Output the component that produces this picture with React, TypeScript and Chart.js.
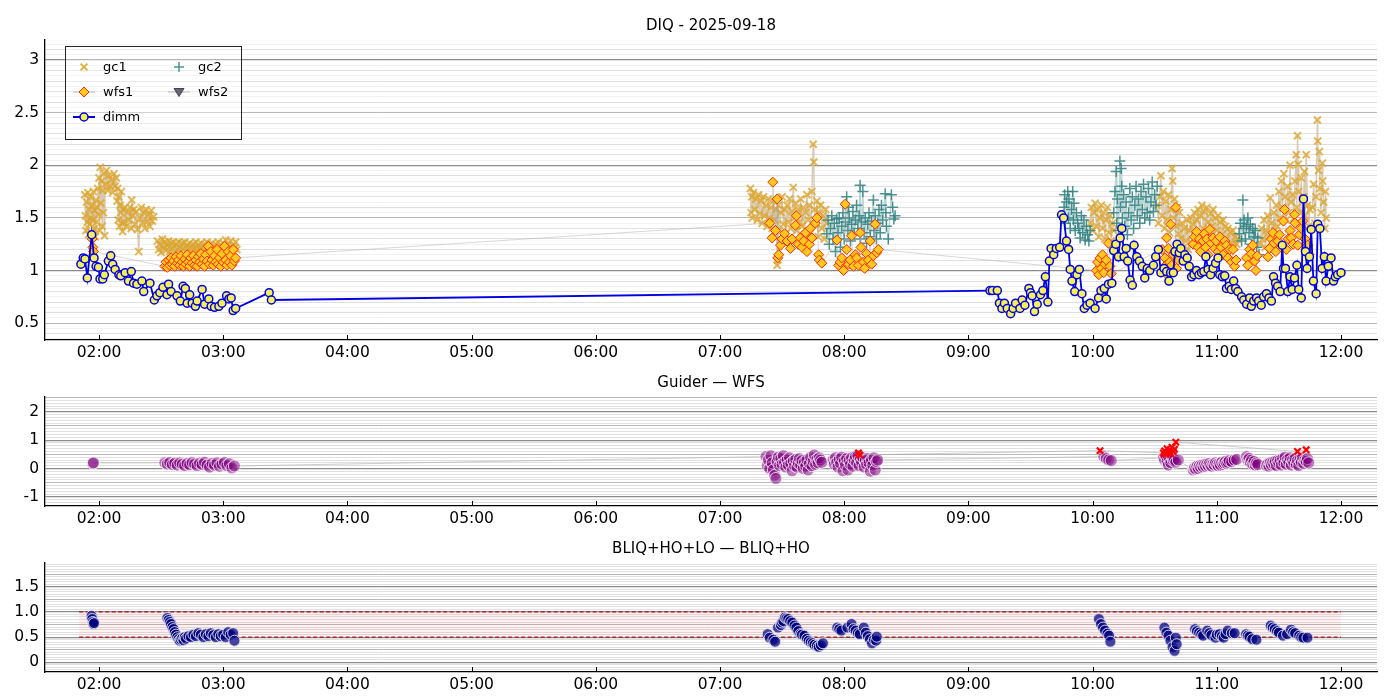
import React, { useEffect, useRef } from "react";
import Chart from "chart.js/auto";

type P = [number, number];

// x values are decimal hours (UT) of the night
const hourTicks = [2, 3, 4, 5, 6, 7, 8, 9, 10, 11, 12];
const hourMin = 1.565;
const hourMax = 12.29;

const diqTicks = [0.5, 1, 1.5, 2, 2.5, 3];
const diqTickLabels = ["0.5", "1", "1.5", "2", "2.5", "3"];
const guiderTicks = [-1, 0, 1, 2];
const guiderTickLabels = ["-1", "0", "1", "2"];
const bliqTicks = [0, 0.5, 1, 1.5];
const bliqTickLabels = ["0", "0.5", "1.0", "1.5"];

const bliqBand = [0.5, 1.0];
const bliqBandSpan = [1.84, 12.0];

// ---- DIQ panel ----
const gc1A: P[] = [
  [1.885, 1.72], [1.89, 1.52], [1.895, 1.38], [1.9, 1.65], [1.905, 1.46], [1.91, 1.74], [1.915, 1.34], [1.92, 1.58],
  [1.925, 1.44], [1.93, 1.7], [1.935, 1.5], [1.94, 1.36], [1.945, 1.62], [1.95, 1.48], [1.955, 1.75], [1.96, 1.4],
  [1.965, 1.57], [1.97, 1.32], [1.975, 1.67], [1.98, 1.46], [1.985, 1.6], [1.99, 1.78], [1.995, 1.53], [2.0, 1.88],
  [2.005, 1.38], [2.01, 1.98], [2.015, 1.64], [2.02, 1.85], [2.025, 1.42], [2.03, 1.76], [2.035, 1.55], [2.04, 1.92],
  [2.045, 1.33], [2.05, 1.82], [2.06, 1.95], [2.07, 1.76], [2.08, 1.9], [2.09, 1.8], [2.1, 1.86], [2.11, 1.74],
  [2.12, 1.92], [2.13, 1.8], [2.14, 1.88], [2.145, 1.66], [2.15, 1.78], [2.155, 1.48], [2.16, 1.7], [2.165, 1.42],
  [2.17, 1.62], [2.175, 1.55], [2.18, 1.75], [2.185, 1.45], [2.19, 1.37], [2.195, 1.58], [2.2, 1.46], [2.21, 1.6],
  [2.22, 1.42], [2.23, 1.55], [2.24, 1.48], [2.25, 1.6], [2.26, 1.4], [2.263, 1.67], [2.27, 1.52], [2.28, 1.58],
  [2.29, 1.44], [2.3, 1.56], [2.31, 1.39], [2.32, 1.18], [2.33, 1.5], [2.34, 1.6], [2.35, 1.45], [2.36, 1.55],
  [2.37, 1.4], [2.38, 1.58], [2.39, 1.47], [2.4, 1.53], [2.41, 1.42], [2.42, 1.57], [2.43, 1.47], [2.44, 1.51],
];
const gc1B: P[] = [
  [2.47, 1.28], [2.48, 1.2], [2.49, 1.25], [2.5, 1.17], [2.51, 1.3], [2.52, 1.22], [2.53, 1.27], [2.54, 1.19],
  [2.55, 1.24], [2.56, 1.28], [2.57, 1.18], [2.58, 1.26], [2.59, 1.21], [2.6, 1.27], [2.61, 1.16], [2.62, 1.25],
  [2.63, 1.2], [2.64, 1.27], [2.65, 1.22], [2.66, 1.18], [2.67, 1.26], [2.68, 1.21], [2.69, 1.27], [2.7, 1.17],
  [2.71, 1.24], [2.72, 1.2], [2.73, 1.26], [2.74, 1.22], [2.75, 1.18], [2.76, 1.25], [2.77, 1.21], [2.78, 1.27],
  [2.79, 1.19], [2.8, 1.24], [2.81, 1.2], [2.82, 1.26], [2.83, 1.22], [2.84, 1.17], [2.85, 1.25], [2.86, 1.21],
  [2.87, 1.27], [2.88, 1.19], [2.89, 1.24], [2.9, 1.2], [2.91, 1.26], [2.92, 1.22], [2.93, 1.18], [2.94, 1.25],
  [2.95, 1.21], [2.96, 1.27], [2.97, 1.19], [2.98, 1.24], [2.99, 1.2], [3.0, 1.26], [3.01, 1.22], [3.02, 1.29],
  [3.03, 1.18], [3.04, 1.25], [3.05, 1.21], [3.06, 1.28], [3.07, 1.19], [3.08, 1.24], [3.09, 1.21], [3.1, 1.27],
  [3.11, 1.2],
];
const gc1C: P[] = [
  [7.245, 1.78], [7.25, 1.55], [7.255, 1.7], [7.26, 1.5], [7.27, 1.74], [7.28, 1.58], [7.29, 1.68], [7.3, 1.48],
  [7.31, 1.72], [7.32, 1.54], [7.33, 1.66], [7.34, 1.45], [7.35, 1.7], [7.36, 1.52], [7.37, 1.62], [7.38, 1.42],
  [7.39, 1.68], [7.4, 1.5], [7.41, 1.6], [7.42, 1.4], [7.43, 1.66], [7.44, 1.48], [7.45, 1.58], [7.46, 1.05],
  [7.465, 1.1], [7.47, 1.62], [7.48, 1.38], [7.49, 1.55], [7.5, 1.7], [7.51, 1.44], [7.52, 1.58], [7.53, 1.35],
  [7.54, 1.62], [7.55, 1.46], [7.56, 1.68], [7.57, 1.4], [7.58, 1.56], [7.59, 1.79], [7.6, 1.5], [7.61, 1.64],
  [7.62, 1.38], [7.63, 1.58], [7.64, 1.46], [7.65, 1.68], [7.66, 1.42], [7.67, 1.6], [7.68, 1.34], [7.69, 1.55],
  [7.7, 1.72], [7.71, 1.48], [7.72, 1.62], [7.73, 1.36], [7.74, 1.75], [7.75, 2.2], [7.755, 2.03], [7.76, 1.58],
  [7.77, 1.44], [7.78, 1.66], [7.79, 1.32], [7.8, 1.55], [7.81, 1.62], [7.82, 1.4], [7.83, 1.52], [7.84, 1.3],
  [7.85, 1.58], [7.86, 1.45],
];
const gc1D: P[] = [
  [9.98, 1.45], [9.99, 1.6], [10.0, 1.38], [10.01, 1.55], [10.02, 1.64], [10.03, 1.42], [10.04, 1.58], [10.05, 1.32],
  [10.06, 1.5], [10.07, 1.62], [10.08, 1.4], [10.09, 1.55], [10.1, 1.3], [10.11, 1.48], [10.12, 1.6], [10.13, 1.36],
  [10.14, 1.52], [10.15, 1.28], [10.16, 1.45], [10.17, 1.38],
];
const gc1E: P[] = [
  [10.52, 1.62], [10.53, 1.45], [10.54, 1.7], [10.55, 1.9], [10.56, 1.52], [10.57, 1.75], [10.58, 1.4], [10.59, 1.66],
  [10.6, 1.48], [10.61, 1.72], [10.62, 1.36], [10.63, 1.58], [10.64, 1.97], [10.645, 1.85], [10.65, 1.5], [10.66, 1.68],
  [10.67, 1.42], [10.68, 1.6], [10.69, 1.35], [10.7, 1.55], [10.71, 1.3], [10.72, 1.45], [10.73, 1.22], [10.74, 1.4],
  [10.75, 1.28], [10.76, 1.48], [10.77, 1.2], [10.78, 1.38], [10.79, 1.5], [10.8, 1.26], [10.81, 1.44], [10.82, 1.55],
  [10.83, 1.32], [10.84, 1.48], [10.85, 1.58], [10.86, 1.3], [10.87, 1.52], [10.88, 1.62], [10.89, 1.4], [10.9, 1.56],
  [10.91, 1.35], [10.92, 1.6], [10.93, 1.46], [10.94, 1.3], [10.95, 1.54], [10.96, 1.42], [10.97, 1.58], [10.98, 1.28],
  [10.99, 1.5], [11.0, 1.38], [11.01, 1.52], [11.02, 1.24], [11.03, 1.46], [11.04, 1.34], [11.05, 1.48], [11.06, 1.22],
  [11.07, 1.42], [11.08, 1.3], [11.09, 1.4], [11.1, 1.2], [11.11, 1.36], [11.12, 1.26], [11.13, 1.38], [11.14, 1.22],
  [11.15, 1.32], [11.16, 1.25], [11.17, 1.3],
];
const gc1F: P[] = [
  [11.35, 1.25], [11.36, 1.4], [11.37, 1.3], [11.38, 1.48], [11.39, 1.22], [11.4, 1.38], [11.41, 1.52], [11.42, 1.32],
  [11.43, 1.69], [11.44, 1.45], [11.45, 1.28], [11.46, 1.55], [11.47, 1.38], [11.48, 1.62], [11.49, 1.42], [11.5, 1.75],
  [11.51, 1.5], [11.52, 1.85], [11.53, 1.6], [11.54, 1.92], [11.55, 1.7], [11.56, 1.48], [11.57, 1.8], [11.58, 1.55],
  [11.59, 2.0], [11.6, 1.65], [11.61, 1.72], [11.62, 1.5], [11.63, 1.85], [11.64, 2.1], [11.645, 1.6], [11.65, 2.28],
  [11.655, 2.01], [11.66, 1.75], [11.67, 1.55], [11.68, 1.88], [11.69, 1.45], [11.7, 1.7], [11.706, 1.94], [11.71, 1.52],
  [11.72, 2.1], [11.73, 1.62], [11.74, 1.42], [11.75, 1.58], [11.77, 1.6], [11.78, 1.82], [11.79, 1.45], [11.8, 1.7],
  [11.81, 2.43], [11.813, 2.23], [11.82, 1.95], [11.826, 2.13], [11.83, 1.78], [11.84, 1.55], [11.85, 2.02], [11.853, 1.85],
  [11.86, 1.65], [11.87, 1.4], [11.875, 1.75], [11.88, 1.5],
];

const gc2A: P[] = [
  [7.86, 1.35], [7.87, 1.48], [7.88, 1.25], [7.89, 1.4], [7.9, 1.52], [7.91, 1.3], [7.92, 1.45], [7.93, 1.18],
  [7.94, 1.49], [7.95, 1.36], [7.96, 1.5], [7.97, 1.22], [7.98, 1.42], [7.99, 1.55], [8.0, 1.3], [8.01, 1.46],
  [8.02, 1.7], [8.03, 1.38], [8.035, 1.6], [8.04, 1.5], [8.05, 1.28], [8.06, 1.44], [8.07, 1.56], [8.08, 1.34],
  [8.09, 1.48], [8.1, 1.62], [8.11, 1.4], [8.12, 1.52], [8.128, 1.81], [8.13, 1.3], [8.14, 1.46], [8.15, 1.75],
  [8.16, 1.36], [8.17, 1.5], [8.18, 1.26], [8.19, 1.44], [8.2, 1.55], [8.21, 1.32], [8.22, 1.47], [8.235, 1.67],
  [8.24, 1.38], [8.25, 1.52], [8.26, 1.3], [8.27, 1.45], [8.28, 1.58], [8.29, 1.36], [8.3, 1.62], [8.31, 1.48],
  [8.33, 1.73], [8.335, 1.55], [8.34, 1.42], [8.355, 1.3], [8.38, 1.72], [8.39, 1.6], [8.4, 1.49], [8.41, 1.52],
];
const gc2B: P[] = [
  [9.77, 1.6], [9.775, 1.72], [9.78, 1.45], [9.79, 1.65], [9.8, 1.75], [9.805, 1.5], [9.81, 1.68], [9.82, 1.4],
  [9.83, 1.58], [9.84, 1.75], [9.845, 1.48], [9.85, 1.64], [9.86, 1.38], [9.87, 1.55], [9.88, 1.45], [9.89, 1.4],
  [9.9, 1.31], [9.91, 1.52], [9.92, 1.36], [9.93, 1.48], [9.94, 1.29], [9.95, 1.42], [9.96, 1.34], [9.97, 1.28],
  [9.98, 1.38],
];
const gc2C: P[] = [
  [10.17, 1.55], [10.18, 1.75], [10.19, 1.94], [10.195, 1.45], [10.2, 1.68], [10.21, 1.38], [10.22, 2.04], [10.225, 1.6],
  [10.23, 1.97], [10.235, 1.8], [10.24, 1.5], [10.25, 1.72], [10.26, 1.42], [10.27, 1.65], [10.28, 1.34], [10.29, 1.55],
  [10.3, 1.78], [10.31, 1.48], [10.32, 1.7], [10.33, 1.4], [10.34, 1.62], [10.35, 1.8], [10.36, 1.52], [10.37, 1.68],
  [10.38, 1.45], [10.39, 1.75], [10.4, 1.58], [10.41, 1.82], [10.42, 1.5], [10.43, 1.7], [10.44, 1.55], [10.45, 1.78],
  [10.46, 1.48], [10.47, 1.65], [10.48, 1.84], [10.49, 1.56], [10.5, 1.72], [10.51, 1.62], [10.52, 1.8],
];
const gc2D: P[] = [
  [11.18, 1.35], [11.19, 1.45], [11.2, 1.28], [11.21, 1.67], [11.215, 1.4], [11.22, 1.48], [11.23, 1.3], [11.24, 1.42],
  [11.25, 1.5], [11.26, 1.36], [11.27, 1.44], [11.28, 1.25], [11.29, 1.4], [11.3, 1.32], [11.31, 1.38], [11.32, 1.22],
  [11.33, 1.31], [11.34, 1.15],
];

const wfs1: P[] = [
  [1.945, 1.3], [1.95, 1.22], [1.955, 1.18],
  [2.53, 1.04], [2.54, 1.08], [2.55, 1.03], [2.56, 1.1], [2.57, 1.05], [2.58, 1.12], [2.59, 1.06], [2.6, 1.09],
  [2.61, 1.04], [2.62, 1.13], [2.63, 1.07], [2.64, 1.1], [2.65, 1.05], [2.66, 1.14], [2.67, 1.08], [2.68, 1.04],
  [2.69, 1.11], [2.7, 1.06], [2.71, 1.15], [2.72, 1.08], [2.73, 1.04], [2.74, 1.12], [2.75, 1.07], [2.76, 1.14],
  [2.77, 1.05], [2.78, 1.1], [2.79, 1.04], [2.8, 1.13], [2.81, 1.08], [2.82, 1.16], [2.83, 1.06], [2.84, 1.11],
  [2.85, 1.04], [2.86, 1.15], [2.87, 1.09], [2.88, 1.23], [2.89, 1.06], [2.9, 1.18], [2.91, 1.1], [2.92, 1.05],
  [2.93, 1.14], [2.94, 1.08], [2.95, 1.2], [2.96, 1.06], [2.97, 1.12], [2.98, 1.04], [2.99, 1.16], [3.0, 1.08],
  [3.01, 1.23], [3.02, 1.1], [3.03, 1.05], [3.04, 1.18], [3.05, 1.08], [3.06, 1.14], [3.07, 1.05], [3.08, 1.2],
  [3.09, 1.09], [3.1, 1.12],
  [7.4, 1.45], [7.42, 1.31], [7.425, 1.84], [7.447, 1.38], [7.46, 1.68], [7.465, 1.12], [7.473, 1.15], [7.487, 1.24],
  [7.5, 1.3], [7.52, 1.35], [7.54, 1.28], [7.567, 1.21], [7.58, 1.3], [7.607, 1.43], [7.615, 1.52], [7.63, 1.25],
  [7.647, 1.31], [7.66, 1.22], [7.674, 1.28], [7.69, 1.36], [7.7, 1.18], [7.72, 1.25], [7.727, 1.4], [7.74, 1.31],
  [7.767, 1.45], [7.78, 1.5], [7.794, 1.15], [7.8, 1.1], [7.82, 1.07],
  [7.941, 1.29], [7.955, 1.05], [7.968, 1.08], [7.98, 1.12], [7.995, 1.0], [8.008, 1.63], [8.02, 1.2], [8.035, 1.06],
  [8.048, 1.1], [8.06, 1.33], [8.075, 1.04], [8.09, 1.15], [8.1, 1.12], [8.115, 1.05], [8.128, 1.36], [8.135, 1.22],
  [8.155, 1.08], [8.165, 1.02], [8.18, 1.16], [8.195, 1.1], [8.209, 1.28], [8.222, 1.06], [8.235, 1.14], [8.249, 1.44],
  [8.262, 1.17], [8.275, 1.2],
  [10.03, 1.0], [10.04, 1.08], [10.05, 0.96], [10.06, 1.12], [10.07, 1.02], [10.08, 1.15], [10.09, 0.98], [10.1, 1.06],
  [10.11, 1.1], [10.128, 1.26], [10.14, 1.04], [10.15, 0.97],
  [10.56, 1.2], [10.583, 1.12], [10.59, 1.05], [10.596, 1.31], [10.6, 0.96], [10.61, 1.21], [10.62, 1.08], [10.628, 1.44],
  [10.636, 1.05], [10.65, 1.15], [10.66, 1.0], [10.671, 1.6], [10.676, 1.02], [10.69, 1.1],
  [10.81, 1.25], [10.82, 1.32], [10.837, 1.37], [10.85, 1.22], [10.86, 1.3], [10.87, 1.18], [10.89, 1.28], [10.9, 1.35],
  [10.91, 1.22], [10.92, 1.3], [10.93, 1.15], [10.944, 1.39], [10.955, 1.26], [10.97, 1.31], [10.984, 1.21], [10.995, 1.28],
  [11.01, 1.18], [11.024, 1.32], [11.035, 1.22], [11.05, 1.15], [11.065, 1.28], [11.078, 1.24], [11.09, 1.12], [11.105, 1.2],
  [11.12, 1.08], [11.131, 1.2], [11.144, 1.04], [11.155, 1.1],
  [11.24, 1.12], [11.25, 1.05], [11.265, 1.2], [11.278, 1.16], [11.29, 1.24], [11.305, 1.09], [11.315, 1.0], [11.325, 1.14],
  [11.412, 1.13], [11.425, 1.21], [11.44, 1.3], [11.452, 1.36], [11.46, 1.26], [11.475, 1.18], [11.49, 1.28], [11.505, 1.34],
  [11.52, 1.22], [11.537, 1.47], [11.545, 1.58], [11.56, 1.2], [11.575, 1.3], [11.59, 1.38], [11.6, 1.31], [11.615, 1.25],
  [11.626, 1.53], [11.63, 1.45], [11.652, 1.24], [11.666, 1.34], [11.68, 1.4], [11.692, 1.47], [11.71, 1.3], [11.72, 1.2],
  [11.733, 1.24], [11.745, 1.15],
];
const wfs2: P[] = [];

const dimm: P[] = [
  [1.854, 1.06], [1.873, 1.12], [1.887, 1.11], [1.906, 0.93], [1.941, 1.34], [1.96, 1.12], [1.976, 1.04], [1.995, 1.03],
  [2.008, 0.92], [2.03, 0.92], [2.043, 0.96], [2.075, 1.09], [2.094, 1.14], [2.11, 1.06], [2.13, 1.01], [2.16, 0.96],
  [2.175, 0.95], [2.21, 0.98], [2.237, 0.9], [2.26, 0.99], [2.278, 0.88], [2.305, 0.87], [2.345, 0.9], [2.36, 0.8],
  [2.41, 0.88], [2.445, 0.72], [2.466, 0.76], [2.49, 0.79], [2.515, 0.84], [2.547, 0.77], [2.56, 0.87], [2.58, 0.8],
  [2.628, 0.76], [2.655, 0.71], [2.677, 0.85], [2.695, 0.83], [2.71, 0.69], [2.73, 0.77], [2.75, 0.69], [2.776, 0.66],
  [2.79, 0.71], [2.83, 0.82], [2.85, 0.68], [2.884, 0.73], [2.903, 0.66], [2.93, 0.65], [2.965, 0.66], [2.99, 0.69],
  [3.027, 0.76], [3.046, 0.73], [3.064, 0.74], [3.08, 0.62], [3.1, 0.64], [3.37, 0.79], [3.388, 0.72],
  [9.174, 0.81], [9.193, 0.81], [9.233, 0.81], [9.25, 0.69], [9.27, 0.64], [9.29, 0.69], [9.313, 0.64], [9.34, 0.59],
  [9.36, 0.64], [9.38, 0.69], [9.415, 0.64], [9.433, 0.72], [9.455, 0.67], [9.487, 0.83], [9.5, 0.79], [9.513, 0.76],
  [9.532, 0.61], [9.554, 0.68], [9.58, 0.77], [9.6, 0.81], [9.62, 0.94], [9.64, 0.7], [9.652, 1.09], [9.666, 1.21],
  [9.687, 1.15], [9.708, 1.21], [9.735, 1.22], [9.75, 1.53], [9.767, 1.5], [9.79, 1.28], [9.807, 1.2], [9.82, 1.01],
  [9.834, 0.9], [9.856, 0.8], [9.874, 0.96], [9.893, 1.01], [9.914, 0.78], [9.933, 0.64], [9.955, 0.67], [9.98, 0.69],
  [10.02, 0.64], [10.048, 0.74], [10.067, 0.81], [10.094, 0.83], [10.11, 0.73], [10.128, 0.87], [10.155, 0.88], [10.17, 1.19],
  [10.187, 1.25], [10.208, 1.13], [10.222, 1.31], [10.235, 1.4], [10.254, 1.13], [10.27, 1.21], [10.283, 1.09], [10.302, 0.91],
  [10.32, 0.86], [10.334, 1.24], [10.356, 1.13], [10.377, 1.09], [10.4, 1.04], [10.42, 0.93], [10.44, 1.02], [10.46, 1.0],
  [10.49, 1.05], [10.508, 1.13], [10.53, 1.2], [10.55, 0.98], [10.575, 1.02], [10.596, 0.99], [10.615, 0.9], [10.628, 0.98],
  [10.65, 0.98], [10.663, 1.18], [10.68, 1.25], [10.698, 1.17], [10.71, 1.21], [10.73, 1.09], [10.743, 1.15], [10.762, 1.12],
  [10.778, 1.04], [10.797, 0.94], [10.816, 0.96], [10.837, 1.0], [10.856, 0.96], [10.877, 0.98], [10.896, 0.99], [10.912, 1.13],
  [10.93, 1.01], [10.95, 0.96], [10.97, 1.02], [10.99, 1.07], [11.01, 1.12], [11.024, 0.96], [11.045, 0.94], [11.064, 0.95],
  [11.078, 0.83], [11.1, 0.85], [11.117, 0.82], [11.136, 0.9], [11.152, 0.83], [11.17, 0.8], [11.2, 0.75], [11.217, 0.72],
  [11.24, 0.68], [11.265, 0.74], [11.278, 0.66], [11.297, 0.71], [11.32, 0.74], [11.337, 0.71], [11.358, 0.67], [11.377, 0.75],
  [11.4, 0.78], [11.42, 0.74], [11.44, 0.71], [11.457, 0.94], [11.473, 0.88], [11.49, 0.85], [11.51, 0.8], [11.527, 1.24],
  [11.537, 1.02], [11.553, 1.02], [11.572, 0.8], [11.59, 0.94], [11.607, 0.82], [11.626, 0.93], [11.645, 1.05], [11.66, 0.82],
  [11.68, 0.74], [11.698, 1.68], [11.714, 1.18], [11.727, 1.02], [11.746, 1.13], [11.76, 1.39], [11.778, 0.9], [11.8, 0.78],
  [11.813, 1.44], [11.83, 1.4], [11.848, 1.02], [11.866, 1.13], [11.88, 0.9], [11.898, 1.04], [11.92, 1.12], [11.94, 0.9],
  [11.955, 0.94], [11.973, 0.96], [12.0, 0.98],
];

// ---- Guider — WFS panel ----
const guiderWfs: P[] = [
  [1.95, 0.18], [1.955, 0.2],
  [2.53, 0.2], [2.55, 0.16], [2.57, 0.21], [2.59, 0.14], [2.61, 0.19], [2.63, 0.12], [2.65, 0.2], [2.67, 0.15],
  [2.69, 0.1], [2.71, 0.18], [2.73, 0.13], [2.75, 0.21], [2.77, 0.16], [2.79, 0.1], [2.81, 0.19], [2.83, 0.14],
  [2.85, 0.22], [2.87, 0.12], [2.89, 0.05], [2.91, 0.18], [2.93, 0.12], [2.95, 0.2], [2.97, 0.08], [2.99, 0.16],
  [3.01, 0.21], [3.03, 0.1], [3.05, 0.17], [3.07, 0.02], [3.09, 0.09],
  [7.37, 0.42], [7.38, 0.1], [7.39, 0.3], [7.4, 0.0], [7.41, 0.45], [7.42, 0.2], [7.43, -0.05], [7.44, -0.24],
  [7.45, -0.35], [7.46, 0.25], [7.47, 0.4], [7.48, 0.1], [7.49, 0.35], [7.5, 0.15], [7.51, 0.45], [7.52, 0.22],
  [7.53, 0.05], [7.54, 0.3], [7.55, 0.12], [7.56, 0.38], [7.57, 0.18], [7.58, -0.08], [7.59, 0.26], [7.6, 0.1],
  [7.61, 0.32], [7.62, 0.05], [7.63, 0.2], [7.64, 0.35], [7.65, 0.12], [7.66, 0.28], [7.67, 0.0], [7.68, 0.22],
  [7.69, 0.08], [7.7, 0.3], [7.71, -0.05], [7.72, 0.18], [7.73, 0.4], [7.74, 0.1], [7.75, 0.25], [7.76, 0.48],
  [7.77, 0.15], [7.78, 0.32], [7.79, 0.2], [7.8, 0.38], [7.81, 0.3], [7.82, 0.22],
  [7.91, 0.3], [7.92, 0.15], [7.93, 0.38], [7.94, 0.22], [7.95, 0.05], [7.96, 0.32], [7.97, 0.18], [7.98, 0.4],
  [7.99, -0.08], [8.0, 0.25], [8.01, 0.12], [8.02, 0.35], [8.03, -0.05], [8.04, 0.28], [8.05, 0.15], [8.06, 0.38],
  [8.07, 0.08], [8.08, 0.3], [8.09, 0.42], [8.1, 0.2], [8.11, 0.45], [8.12, 0.1], [8.13, 0.32], [8.14, 0.22],
  [8.15, 0.38], [8.16, 0.05], [8.17, 0.28], [8.18, 0.15], [8.19, 0.35], [8.2, 0.2], [8.21, -0.1], [8.22, 0.3],
  [8.23, 0.12], [8.24, 0.38], [8.25, -0.05], [8.26, 0.25], [8.27, 0.3],
  [10.09, 0.42], [10.11, 0.35], [10.13, 0.3], [10.15, 0.28],
  [10.57, 0.38], [10.58, 0.3], [10.59, 0.45], [10.6, 0.25], [10.61, 0.12], [10.62, 0.35], [10.63, 0.2], [10.64, 0.4],
  [10.65, 0.28], [10.66, 0.32], [10.67, 0.22], [10.69, 0.3],
  [10.81, -0.05], [10.82, 0.02], [10.83, -0.02], [10.84, 0.08], [10.85, 0.0], [10.86, 0.1], [10.87, 0.04], [10.88, 0.12],
  [10.89, 0.06], [10.9, 0.14], [10.91, 0.08], [10.92, 0.16], [10.93, 0.1], [10.94, 0.18], [10.95, 0.12], [10.96, 0.08],
  [10.97, 0.16], [10.98, 0.12], [10.99, 0.2], [11.0, 0.14], [11.01, 0.1], [11.02, 0.18], [11.03, 0.12], [11.04, 0.22],
  [11.05, 0.15], [11.06, 0.2], [11.07, 0.25], [11.08, 0.18], [11.09, 0.22], [11.1, 0.28], [11.12, 0.24], [11.14, 0.3],
  [11.16, 0.32],
  [11.24, 0.42], [11.25, 0.3], [11.26, 0.36], [11.27, 0.22], [11.28, 0.3], [11.29, 0.15], [11.3, 0.25], [11.31, 0.12],
  [11.32, 0.2], [11.33, 0.14],
  [11.4, 0.1], [11.41, 0.16], [11.42, 0.08], [11.43, 0.2], [11.44, 0.12], [11.45, 0.22], [11.46, 0.14], [11.47, 0.25],
  [11.48, 0.1], [11.49, 0.28], [11.5, 0.18], [11.51, 0.3], [11.52, 0.12], [11.53, 0.35], [11.54, 0.2], [11.55, 0.4],
  [11.56, 0.15], [11.57, 0.32], [11.58, 0.22], [11.59, 0.38], [11.6, 0.12], [11.61, 0.3], [11.62, 0.2], [11.63, 0.35],
  [11.64, 0.15], [11.65, 0.28], [11.66, 0.1], [11.67, 0.32], [11.68, 0.22], [11.69, 0.38], [11.7, 0.18], [11.71, 0.3],
  [11.72, 0.25], [11.73, 0.35], [11.74, 0.2],
];
const guiderFlagged: P[] = [
  [8.115, 0.55], [8.125, 0.48], [10.06, 0.63],
  [10.57, 0.55], [10.58, 0.62], [10.59, 0.5], [10.6, 0.7], [10.61, 0.58], [10.62, 0.65], [10.63, 0.52], [10.64, 0.75],
  [10.65, 0.6], [10.66, 0.68], [10.67, 0.93],
  [11.65, 0.6], [11.72, 0.66],
];

// ---- BLIQ+HO+LO — BLIQ+HO panel ----
const bliqRatio: P[] = [
  [1.94, 0.92], [1.945, 0.86], [1.95, 0.8], [1.955, 0.76], [1.96, 0.78],
  [2.55, 0.88], [2.56, 0.84], [2.57, 0.8], [2.58, 0.76], [2.59, 0.7], [2.6, 0.66], [2.61, 0.6], [2.62, 0.55],
  [2.63, 0.5], [2.64, 0.46], [2.65, 0.43], [2.66, 0.45], [2.67, 0.48], [2.68, 0.44], [2.69, 0.5], [2.7, 0.47],
  [2.72, 0.52], [2.74, 0.5], [2.76, 0.55], [2.78, 0.52], [2.8, 0.58], [2.82, 0.55], [2.84, 0.5], [2.86, 0.56],
  [2.88, 0.52], [2.9, 0.58], [2.92, 0.54], [2.94, 0.5], [2.96, 0.56], [2.98, 0.52], [3.0, 0.55], [3.02, 0.5],
  [3.04, 0.6], [3.06, 0.55], [3.08, 0.58], [3.09, 0.43],
  [7.384, 0.56], [7.4, 0.49], [7.43, 0.45], [7.444, 0.41], [7.467, 0.69], [7.49, 0.74], [7.5, 0.79], [7.51, 0.82],
  [7.523, 0.89], [7.535, 0.87], [7.549, 0.86], [7.565, 0.82], [7.582, 0.79], [7.6, 0.73], [7.615, 0.69], [7.63, 0.62],
  [7.648, 0.56], [7.66, 0.55], [7.68, 0.53], [7.7, 0.47], [7.714, 0.43], [7.73, 0.4], [7.747, 0.38], [7.76, 0.35],
  [7.78, 0.33], [7.795, 0.31], [7.812, 0.34], [7.829, 0.38],
  [7.944, 0.69], [7.96, 0.66], [7.977, 0.63], [8.026, 0.69], [8.059, 0.76], [8.075, 0.66], [8.092, 0.63], [8.11, 0.58],
  [8.125, 0.56], [8.158, 0.69], [8.174, 0.59], [8.19, 0.52], [8.207, 0.46], [8.224, 0.38], [8.24, 0.45], [8.257, 0.43],
  [8.262, 0.51],
  [10.051, 0.86], [10.067, 0.76], [10.084, 0.69], [10.1, 0.63], [10.12, 0.57], [10.133, 0.53], [10.143, 0.41],
  [10.578, 0.69], [10.594, 0.59], [10.611, 0.53], [10.627, 0.43], [10.644, 0.3], [10.66, 0.23], [10.67, 0.49], [10.677, 0.36],
  [10.825, 0.66], [10.84, 0.62], [10.858, 0.59], [10.875, 0.56], [10.89, 0.53], [10.923, 0.63], [10.94, 0.58], [10.956, 0.54],
  [10.989, 0.49], [11.0, 0.55], [11.022, 0.56], [11.04, 0.52], [11.055, 0.49], [11.07, 0.56], [11.088, 0.63], [11.121, 0.58],
  [11.144, 0.58],
  [11.236, 0.56], [11.25, 0.53], [11.263, 0.51], [11.286, 0.46], [11.319, 0.45],
  [11.434, 0.73], [11.45, 0.69], [11.467, 0.66], [11.485, 0.62], [11.5, 0.59], [11.533, 0.53], [11.566, 0.56], [11.598, 0.65],
  [11.615, 0.6], [11.631, 0.58], [11.664, 0.53], [11.68, 0.5], [11.697, 0.49], [11.73, 0.49],
];

// ---------- helpers ----------
type XY = { x: number; y: number | null };

const toXY = (...groups: P[][]): XY[] => {
  const out: XY[] = [];
  groups.forEach((g, i) => {
    if (i > 0 && g.length) out.push({ x: g[0][0], y: null });
    g.forEach(([x, y]) => out.push({ x, y }));
  });
  return out;
};

const isMult = (v: number, step: number) => Math.abs(v / step - Math.round(v / step)) < 1e-6;

const gridValues = (min: number, max: number, step: number) => {
  const out: number[] = [];
  for (let i = Math.ceil(min / step - 1e-9); i * step <= max + 1e-9; i++) out.push(+(i * step).toFixed(3));
  return out;
};

interface GridSteps {
  major: number;
  mid: number;
  minor: number;
  fine?: number;
}

const gridColor = (v: number, s: GridSteps) => {
  if (isMult(v, s.major)) return "#8c8c8c";
  if (isMult(v, s.mid)) return "#b8b8b8";
  if (isMult(v, s.minor)) return "#e0e0e0";
  return "#f2f2f2";
};

const inwardTicks = {
  id: "inwardTicks",
  afterDraw(chart: any) {
    const { ctx, chartArea, scales } = chart;
    ctx.save();
    ctx.strokeStyle = "#000";
    ctx.lineWidth = 1;
    hourTicks.forEach((h) => {
      const px = Math.round(scales.x.getPixelForValue(h)) + 0.5;
      ctx.beginPath();
      ctx.moveTo(px, chartArea.bottom);
      ctx.lineTo(px, chartArea.bottom - 5);
      ctx.stroke();
    });
    ctx.restore();
  },
};

function drawMarker(ctx: CanvasRenderingContext2D, style: string, x: number, y: number) {
  ctx.beginPath();
  if (style === "crossRot") {
    const r = 3.4;
    ctx.moveTo(x - r, y - r);
    ctx.lineTo(x + r, y + r);
    ctx.moveTo(x - r, y + r);
    ctx.lineTo(x + r, y - r);
    ctx.stroke();
  } else if (style === "cross") {
    const r = 5;
    ctx.moveTo(x - r, y);
    ctx.lineTo(x + r, y);
    ctx.moveTo(x, y - r);
    ctx.lineTo(x, y + r);
    ctx.stroke();
  } else if (style === "rectRot") {
    const r = 5;
    ctx.moveTo(x, y - r);
    ctx.lineTo(x + r, y);
    ctx.lineTo(x, y + r);
    ctx.lineTo(x - r, y);
    ctx.closePath();
    ctx.fill();
    ctx.stroke();
  } else if (style === "triangleDown") {
    const r = 5;
    ctx.moveTo(x - r, y - r * 0.7);
    ctx.lineTo(x + r, y - r * 0.7);
    ctx.lineTo(x, y + r * 0.9);
    ctx.closePath();
    ctx.fill();
    ctx.stroke();
  } else {
    ctx.arc(x, y, 4, 0, Math.PI * 2);
    ctx.fill();
    ctx.stroke();
  }
}

const legendEntries = [
  { label: "gc1", col: 0, row: 0, style: "crossRot", line: "", stroke: "rgba(218,165,32,0.85)", fill: "", lw: 2 },
  { label: "gc2", col: 1, row: 0, style: "cross", line: "", stroke: "rgba(47,128,128,0.85)", fill: "", lw: 1.5 },
  { label: "wfs1", col: 0, row: 1, style: "rectRot", line: "rgba(190,190,190,0.7)", stroke: "#ff2a00", fill: "#ffc81e", lw: 1 },
  { label: "wfs2", col: 1, row: 1, style: "triangleDown", line: "rgba(190,190,190,0.7)", stroke: "#444455", fill: "#666677", lw: 1 },
  { label: "dimm", col: 0, row: 2, style: "circle", line: "#0000e0", stroke: "#0000e0", fill: "#f5f05a", lw: 1.5 },
];

const diqLegend = {
  id: "diqLegend",
  afterDraw(chart: any) {
    const ctx: CanvasRenderingContext2D = chart.ctx;
    const left = chart.chartArea.left + 20;
    const top = chart.chartArea.top + 6;
    ctx.save();
    ctx.fillStyle = "rgba(255,255,255,0.35)";
    ctx.fillRect(left + 0.5, top + 0.5, 176, 93);
    ctx.strokeStyle = "#222";
    ctx.lineWidth = 1;
    ctx.strokeRect(left + 0.5, top + 0.5, 176, 93);
    legendEntries.forEach((e) => {
      const mx = left + 19 + e.col * 95;
      const my = top + 21 + e.row * 25;
      if (e.line) {
        ctx.strokeStyle = e.line;
        ctx.lineWidth = e.label === "dimm" ? 2 : 1.5;
        ctx.beginPath();
        ctx.moveTo(mx - 11, my);
        ctx.lineTo(mx + 11, my);
        ctx.stroke();
      }
      ctx.strokeStyle = e.stroke;
      ctx.fillStyle = e.fill || e.stroke;
      ctx.lineWidth = e.lw;
      drawMarker(ctx, e.style, mx, my);
      ctx.fillStyle = "#000";
      ctx.font = '13px "DejaVu Sans"';
      ctx.textBaseline = "middle";
      ctx.fillText(e.label, mx + 19, my + 1);
    });
    ctx.restore();
  },
};

interface AxisCfg {
  padTop: number;
  min: number;
  max: number;
  steps: GridSteps;
  ticks: number[];
  labels: string[];
}

function buildOptions(a: AxisCfg): any {
  const grid = gridValues(a.min, a.max, a.steps.fine ?? a.steps.minor);
  return {
    animation: false,
    responsive: false,
    events: [],
    layout: { padding: { top: a.padTop, right: 23, left: 0, bottom: 0 } },
    plugins: { legend: { display: false }, tooltip: { enabled: false }, title: { display: false } },
    scales: {
      x: {
        type: "linear",
        min: hourMin,
        max: hourMax,
        afterBuildTicks: (s: any) => {
          s.ticks = hourTicks.map((v) => ({ value: v }));
        },
        afterFit: (s: any) => {
          s.height = 26;
        },
        grid: { display: false, drawTicks: false },
        border: { display: true, color: "#000", width: 1.3 },
        ticks: {
          autoSkip: false,
          maxRotation: 0,
          padding: 4,
          color: "#000",
          font: { size: 15.5 },
          callback: (v: number) => `${String(v).padStart(2, "0")}:00`,
        },
      },
      y: {
        type: "linear",
        min: a.min,
        max: a.max,
        afterBuildTicks: (s: any) => {
          s.ticks = grid.map((v) => ({ value: v }));
        },
        afterFit: (s: any) => {
          s.width = 45;
        },
        grid: {
          drawTicks: false,
          color: (c: any) => gridColor(c.tick.value, a.steps),
          lineWidth: (c: any) => (isMult(c.tick.value, a.steps.major) ? 1.2 : 1),
        },
        border: { display: true, color: "#000", width: 1.3 },
        ticks: {
          autoSkip: false,
          padding: 6,
          color: "#000",
          font: { size: 15.5 },
          callback: (v: number) => {
            const i = a.ticks.findIndex((t) => Math.abs(t - v) < 1e-6);
            return i >= 0 ? a.labels[i] : "";
          },
        },
      },
    },
  };
}

function diqConfig(): any {
  return {
    type: "scatter",
    data: {
      datasets: [
        {
          label: "dimm",
          data: toXY(dimm),
          order: 0,
          showLine: true,
          borderColor: "#0000e0",
          borderWidth: 1.8,
          pointStyle: "circle",
          pointRadius: 4,
          pointBackgroundColor: "#f5f05a",
          pointBorderColor: "#0000e0",
          pointBorderWidth: 1.5,
        },
        {
          label: "wfs2",
          data: toXY(wfs2),
          order: 1,
          showLine: true,
          borderColor: "rgba(170,170,170,0.6)",
          borderWidth: 0.8,
          pointStyle: "triangle",
          rotation: 180,
          pointRadius: 5,
          pointBackgroundColor: "#666677",
          pointBorderColor: "#444455",
        },
        {
          label: "wfs1",
          data: toXY(wfs1),
          order: 2,
          showLine: true,
          borderColor: "rgba(165,165,165,0.55)",
          borderWidth: 0.8,
          pointStyle: "rectRot",
          pointRadius: 5,
          pointBackgroundColor: "#ffc81e",
          pointBorderColor: "#ff2a00",
          pointBorderWidth: 1,
        },
        {
          label: "gc2",
          data: toXY(gc2A, gc2B, gc2C, gc2D),
          order: 3,
          showLine: true,
          spanGaps: false,
          borderColor: "rgba(175,205,205,0.85)",
          borderWidth: 1.4,
          pointStyle: "cross",
          pointRadius: 5.5,
          pointBorderColor: "rgba(47,128,128,0.85)",
          pointBorderWidth: 1.5,
        },
        {
          label: "gc1",
          data: toXY(gc1A, gc1B, gc1C, gc1D, gc1E, gc1F),
          order: 4,
          showLine: true,
          spanGaps: false,
          borderColor: "rgba(212,192,160,0.85)",
          borderWidth: 1.4,
          pointStyle: "crossRot",
          pointRadius: 5,
          pointBorderColor: "rgba(220,165,45,0.8)",
          pointBorderWidth: 2,
        },
      ],
    },
    options: buildOptions({
      padTop: 39,
      min: 0.34,
      max: 3.19,
      steps: { major: 1, mid: 0.5, minor: 0.1, fine: 0.05 },
      ticks: diqTicks,
      labels: diqTickLabels,
    }),
    plugins: [inwardTicks, diqLegend],
  };
}

function guiderConfig(): any {
  return {
    type: "scatter",
    data: {
      datasets: [
        {
          label: "flagged",
          data: toXY(guiderFlagged),
          order: 0,
          showLine: true,
          borderColor: "rgba(170,170,170,0.6)",
          borderWidth: 1,
          pointStyle: "crossRot",
          pointRadius: 4.5,
          pointBorderColor: "#ff0000",
          pointBorderWidth: 2.2,
        },
        {
          label: "guider - wfs",
          data: toXY(guiderWfs),
          order: 1,
          showLine: true,
          borderColor: "rgba(170,170,170,0.6)",
          borderWidth: 1,
          pointStyle: "circle",
          pointRadius: 6,
          pointBackgroundColor: "rgba(128,0,128,0.5)",
          pointBorderColor: "rgba(255,255,255,0.75)",
          pointBorderWidth: 1,
        },
      ],
    },
    options: buildOptions({
      padTop: 31,
      min: -1.32,
      max: 2.52,
      steps: { major: 1, mid: 0.5, minor: 0.1 },
      ticks: guiderTicks,
      labels: guiderTickLabels,
    }),
    plugins: [inwardTicks],
  };
}

function bliqConfig(): any {
  const bandLine = (y: number) => [
    { x: bliqBandSpan[0], y },
    { x: bliqBandSpan[1], y },
  ];
  return {
    type: "scatter",
    data: {
      datasets: [
        {
          label: "ratio",
          data: toXY(bliqRatio),
          order: 0,
          showLine: false,
          pointStyle: "circle",
          pointRadius: 5.5,
          pointBackgroundColor: "rgba(0,0,128,0.72)",
          pointBorderColor: "rgba(225,225,240,0.9)",
          pointBorderWidth: 1,
        },
        {
          label: "band high",
          data: bandLine(bliqBand[1]),
          order: 2,
          showLine: true,
          borderColor: "#a31515",
          borderWidth: 1.2,
          borderDash: [4, 2.5],
          pointRadius: 0,
          fill: "+1",
          backgroundColor: "rgba(255,60,60,0.07)",
        },
        {
          label: "band low",
          data: bandLine(bliqBand[0]),
          order: 3,
          showLine: true,
          borderColor: "#a31515",
          borderWidth: 1.2,
          borderDash: [4, 2.5],
          pointRadius: 0,
          fill: false,
        },
      ],
    },
    options: buildOptions({
      padTop: 31,
      min: -0.19,
      max: 1.97,
      steps: { major: 0.5, mid: 0.25, minor: 0.05 },
      ticks: bliqTicks,
      labels: bliqTickLabels,
    }),
    plugins: [inwardTicks],
  };
}

const Panel: React.FC<{ top: number; height: number; build: () => any }> = ({ top, height, build }) => {
  const ref = useRef<HTMLCanvasElement | null>(null);

  useEffect(() => {
    if (!ref.current) return;
    const ctx = ref.current.getContext("2d");
    if (!ctx) return;
    const chart = new Chart(ctx, build());
    return () => {
      chart.destroy();
    };
  }, [build]);

  return (
    <canvas
      ref={ref}
      width={1400}
      height={height}
      style={{ position: "absolute", left: 0, top, width: 1400, height }}
    />
  );
};

const titleStyle = (top: number): React.CSSProperties => ({
  position: "absolute",
  left: 45,
  width: 1332,
  top,
  textAlign: "center",
  fontSize: 15,
  lineHeight: "16px",
  color: "#000",
});

export default function App() {
  Chart.defaults.font.family = '"DejaVu Sans", sans-serif';
  return (
    <div
      style={{
        position: "absolute",
        left: 0,
        top: 0,
        width: 1400,
        height: 700,
        background: "#fff",
        fontFamily: '"DejaVu Sans", sans-serif',
      }}
    >
      <Panel top={1} height={365} build={diqConfig} />
      <Panel top={366} height={166} build={guiderConfig} />
      <Panel top={532} height={166} build={bliqConfig} />
      <div style={titleStyle(17)}>DIQ - 2025-09-18</div>
      <div style={titleStyle(374)}>Guider — WFS</div>
      <div style={titleStyle(540)}>BLIQ+HO+LO — BLIQ+HO</div>
    </div>
  );
}
